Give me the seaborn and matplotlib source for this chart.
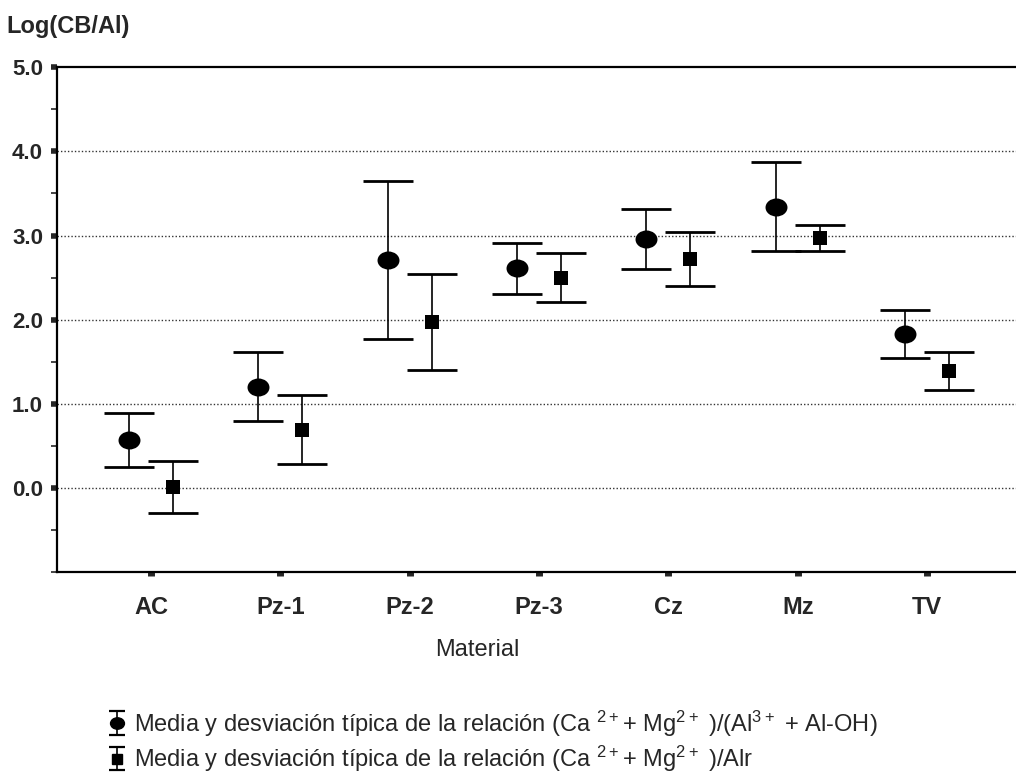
import numpy as np
import pandas as pd
import matplotlib
matplotlib.use('Agg')
import matplotlib.pyplot as plt
from matplotlib.path import Path
from matplotlib.transforms import Affine2D
from matplotlib.ticker import MultipleLocator
import seaborn as sns

# datos
materiales = ['AC', 'Pz-1', 'Pz-2', 'Pz-3', 'Cz', 'Mz', 'TV']
media_al_total = [0.57, 1.20, 2.71, 2.61, 2.96, 3.34, 1.83]
desv_al_total = [0.32, 0.41, 0.94, 0.30, 0.36, 0.53, 0.29]
media_alr = [0.01, 0.69, 1.97, 2.50, 2.72, 2.97, 1.39]
desv_alr = [0.31, 0.41, 0.57, 0.29, 0.32, 0.15, 0.23]
yticks = [0, 1, 2, 3, 4, 5]
ytick_labels = ['0.0', '1.0', '2.0', '3.0', '4.0', '5.0']

etiqueta_1 = r'Media y desviación típica de la relación (Ca $^{2+}$+ Mg$^{2+}$ )/(Al$^{3+}$ + Al-OH)'
etiqueta_2 = r'Media y desviación típica de la relación (Ca $^{2+}$+ Mg$^{2+}$ )/Alr'

sns.set_style('ticks')
plt.rcParams['font.family'] = ['Liberation Sans', 'DejaVu Sans']
plt.rcParams['mathtext.fontset'] = 'custom'
plt.rcParams['mathtext.rm'] = 'Liberation Sans'
plt.rcParams['mathtext.default'] = 'regular'

idx = np.arange(len(materiales))
df1 = pd.DataFrame({'Material': materiales, 'pos': idx - 0.17,
                    'media': media_al_total, 'desv': desv_al_total})
df2 = pd.DataFrame({'Material': materiales, 'pos': idx + 0.17,
                    'media': media_alr, 'desv': desv_alr})

elipse = Path.unit_circle().transformed(Affine2D().scale(1.22, 1.0))

fig = plt.figure(figsize=(10.16, 7.73), dpi=100)
ax = fig.add_axes([0.056, 0.26, 0.949, 0.653])

# barras de error
for d in (df1, df2):
    ax.errorbar(d['pos'], d['media'], yerr=d['desv'], fmt='none', ecolor='black',
                elinewidth=1.2, capsize=18, capthick=2.0, zorder=2)

sns.scatterplot(data=df1, x='pos', y='media', marker=elipse, s=250, color='black',
                linewidth=0, ax=ax, zorder=3, legend=False)
sns.scatterplot(data=df2, x='pos', y='media', marker='s', s=115, color='black',
                linewidth=0, ax=ax, zorder=3, legend=False)

ax.set_xlim(-0.727, len(materiales) - 1 + 0.727)
ax.set_ylim(-1, 5)
ax.set_xticks(idx)
ax.set_xticklabels(materiales, fontsize=17, fontweight='bold')
ax.set_yticks(yticks)
ax.set_yticklabels(ytick_labels, fontsize=16, fontweight='bold')
ax.yaxis.set_minor_locator(MultipleLocator(0.5))
ax.tick_params(axis='y', which='major', length=4, width=4, pad=6)
ax.tick_params(axis='y', which='minor', length=4, width=1.2)
ax.tick_params(axis='x', which='major', length=3, width=5, pad=14)
ax.set_xlabel('Material', fontsize=17)
ax.xaxis.set_label_coords(0.436, -0.132)
ax.set_ylabel('')

for y in yticks[:-1]:
    ax.axhline(y, color='#333333', lw=1.0, ls=(0, (1, 1.5)), zorder=1)

for s in ['left', 'bottom', 'top']:
    ax.spines[s].set_linewidth(1.6)
    ax.spines[s].set_color('black')
ax.spines['right'].set_visible(False)

fig.text(0.006, 0.966, 'Log(CB/Al)', fontsize=17, fontweight='bold', va='center')

# leyenda
h1 = ax.errorbar([np.nan], [np.nan], yerr=[np.nan], marker=elipse, ls='none', color='black',
                 ms=10, capsize=6, elinewidth=1.2, capthick=1.6)
h2 = ax.errorbar([np.nan], [np.nan], yerr=[np.nan], marker='s', ls='none', color='black',
                 ms=7, capsize=6, elinewidth=1.2, capthick=1.6)
fig.legend([h1, h2], [etiqueta_1, etiqueta_2], loc='upper left',
           bbox_to_anchor=(0.083, 0.111), frameon=False, fontsize=17,
           handlelength=1.0, handletextpad=0.2, labelspacing=0.22)

fig.savefig('out.png', dpi=100)
